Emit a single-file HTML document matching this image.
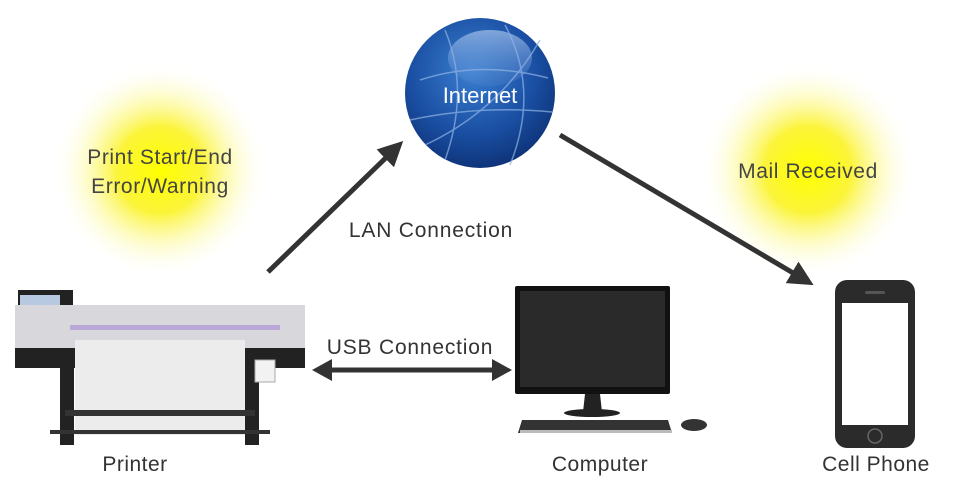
<!DOCTYPE html>
<html><head><style>
body{margin:0;background:#fff;}
svg{display:block;font-family:"Liberation Sans",sans-serif;}
</style></head><body>
<svg width="960" height="480" viewBox="0 0 960 480">
<defs>
<radialGradient id="glow"><stop offset="0" stop-color="#ffff00"/><stop offset="0.4" stop-color="#fbf43a"/><stop offset="1" stop-color="#fff" stop-opacity="0"/></radialGradient>
<radialGradient id="globe" cx="0.45" cy="0.35" r="0.7"><stop offset="0" stop-color="#3a7fd0"/><stop offset="0.6" stop-color="#1a4fa3"/><stop offset="1" stop-color="#0c2f72"/></radialGradient>
<linearGradient id="hl" x1="0" y1="0" x2="0" y2="1"><stop offset="0" stop-color="#a9c6ee" stop-opacity="0.7"/><stop offset="1" stop-color="#5c8dd3" stop-opacity="0.2"/></linearGradient>
<marker id="ah" markerWidth="6" markerHeight="6" refX="3" refY="3" orient="auto" markerUnits="strokeWidth"><path d="M0,0.5 L5,3 L0,5.5 Z" fill="#333"/></marker>
</defs>
<circle cx="160" cy="170" r="108" fill="url(#glow)"/>
<circle cx="808" cy="170" r="108" fill="url(#glow)"/>
<g font-size="21" letter-spacing="0.6" fill="#444" text-anchor="middle">
<text x="160" y="164">Print Start/End</text>
<text x="160" y="193">Error/Warning</text>
<text x="808" y="178">Mail Received</text>
</g>
<!-- globe -->
<circle cx="480" cy="93" r="75" fill="url(#globe)"/>
<ellipse cx="490" cy="58" rx="42" ry="28" fill="url(#hl)"/>
<g stroke="#8fb3e6" stroke-width="1.5" fill="none" opacity="0.7">
<path d="M420,80 Q480,60 548,78"/><path d="M410,120 Q480,105 552,112"/><path d="M445,30 Q470,90 445,160"/><path d="M505,25 Q540,90 510,165"/><path d="M425,145 Q500,110 540,40"/>
</g>
<text x="480" y="103" font-size="22" fill="#fff" text-anchor="middle">Internet</text>
<!-- arrows -->
<line x1="268" y1="272" x2="396" y2="148" stroke="#333" stroke-width="5" marker-end="url(#ah)"/>
<line x1="560" y1="135" x2="805" y2="280" stroke="#333" stroke-width="5" marker-end="url(#ah)"/>
<line x1="325" y1="370" x2="498" y2="370" stroke="#333" stroke-width="5"/>
<path d="M312,370 L332,359 L332,381Z M512,370 L492,359 L492,381Z" fill="#333"/>
<g font-size="21" letter-spacing="0.8" fill="#333" text-anchor="middle">
<text x="431" y="237">LAN Connection</text>
<text x="410" y="354">USB Connection</text>
</g>
<!-- printer -->
<g>
<rect x="18" y="290" width="55" height="25" fill="#222"/>
<rect x="20" y="295" width="40" height="12" fill="#b6c9e0"/>
<rect x="15" y="305" width="290" height="45" fill="#d8d8dc"/>
<rect x="70" y="325" width="210" height="5" fill="#b9a8d8"/>
<rect x="15" y="348" width="290" height="20" fill="#222"/>
<rect x="75" y="340" width="170" height="95" fill="#ececec"/>
<rect x="60" y="360" width="14" height="85" fill="#222"/>
<rect x="245" y="360" width="14" height="85" fill="#222"/>
<rect x="65" y="410" width="190" height="6" fill="#333"/>
<rect x="50" y="430" width="220" height="4" fill="#333"/>
<rect x="255" y="360" width="20" height="22" fill="#f2f2f2" stroke="#aaa"/>
</g>
<g font-size="21" letter-spacing="0.5" fill="#333" text-anchor="middle">
<text x="135" y="471">Printer</text>
<text x="600" y="471">Computer</text>
<text x="876" y="471">Cell Phone</text>
</g>
<!-- computer -->
<rect x="515" y="286" width="155" height="108" rx="2" fill="#111"/>
<rect x="520" y="291" width="145" height="96" fill="#2a2a2a"/>
<path d="M585,394 L600,394 L602,412 L583,412Z" fill="#222"/>
<ellipse cx="592" cy="413" rx="28" ry="4" fill="#222"/>
<path d="M522,420 L668,420 L672,433 L518,433Z" fill="#333"/>
<rect x="520" y="430" width="152" height="3" fill="#bbb"/>
<ellipse cx="694" cy="425" rx="13" ry="6" fill="#333"/>
<!-- phone -->
<rect x="835" y="280" width="80" height="168" rx="12" fill="#2b2b2b"/>
<rect x="842" y="303" width="66" height="122" fill="#fff"/>
<circle cx="875" cy="436" r="7" fill="none" stroke="#666" stroke-width="1.5"/>
<rect x="865" y="291" width="20" height="3" rx="1.5" fill="#555"/>
</svg>
</body></html>
